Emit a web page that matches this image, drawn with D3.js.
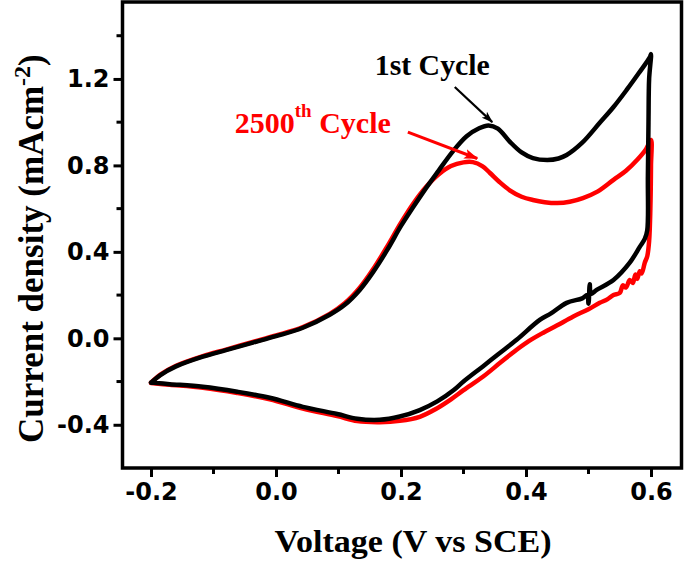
<!DOCTYPE html>
<html><head><meta charset="utf-8">
<script src="https://cdn.jsdelivr.net/npm/d3@7"></script>
<style>
html,body{margin:0;padding:0;background:#fff;}
svg{display:block;}
</style></head>
<body>
<svg id="chart" width="685" height="565"></svg>
<script>
// ---- Data ----
const cycle1V = [-0.200,-0.185,-0.160,-0.117,-0.080,-0.037,0.000,0.043,0.086,0.110,0.134,0.155,0.178,0.200,0.219,0.240,0.260,0.283,0.305,0.325,0.340,0.355,0.374,0.393,0.411,0.434,0.452,0.465,0.490,0.518,0.540,0.561,0.580,0.598,0.600,
  0.597,0.596,0.595,0.594,0.590,0.582,0.566,0.540,0.513,0.504,0.502,0.500,0.498,0.490,0.465,0.440,0.422,0.385,0.355,0.331,0.300,0.285,0.258,0.230,0.198,0.166,0.130,0.098,0.043,-0.010,-0.062,-0.117,-0.170,-0.200];
const cycle1I = [-0.205,-0.170,-0.130,-0.085,-0.055,-0.020,0.010,0.049,0.109,0.155,0.224,0.305,0.409,0.520,0.605,0.695,0.775,0.865,0.935,0.972,0.985,0.970,0.910,0.860,0.834,0.825,0.832,0.848,0.905,0.997,1.070,1.149,1.225,1.300,1.315,
  1.200,1.000,0.750,0.500,0.460,0.423,0.350,0.270,0.224,0.205,0.250,0.160,0.200,0.185,0.164,0.115,0.085,-0.007,-0.075,-0.130,-0.200,-0.238,-0.292,-0.332,-0.362,-0.377,-0.372,-0.350,-0.317,-0.275,-0.247,-0.224,-0.212,-0.205];

const cycle2500V = [-0.200,-0.185,-0.160,-0.117,-0.080,-0.037,0.000,0.043,0.086,0.110,0.134,0.155,0.178,0.200,0.220,0.240,0.260,0.280,0.300,0.315,0.330,0.342,0.358,0.374,0.393,0.411,0.430,0.450,0.470,0.491,0.515,0.540,0.560,0.578,0.592,0.600,
  0.600,0.599,0.597,0.594,0.590,0.585,0.582,0.578,0.575,0.571,0.566,0.560,0.555,0.550,0.540,0.530,0.518,0.500,0.475,0.450,0.427,0.405,0.385,0.360,0.331,0.300,0.280,0.255,0.230,0.198,0.166,0.130,0.098,0.043,-0.010,-0.062,-0.117,-0.170,-0.200];
const cycle2500I = [-0.205,-0.168,-0.127,-0.082,-0.052,-0.017,0.013,0.052,0.113,0.162,0.234,0.318,0.425,0.535,0.625,0.700,0.758,0.797,0.814,0.815,0.797,0.766,0.722,0.685,0.655,0.640,0.630,0.626,0.632,0.649,0.680,0.733,0.775,0.826,0.875,0.918,
  0.800,0.600,0.450,0.380,0.350,0.300,0.310,0.275,0.295,0.256,0.270,0.235,0.245,0.210,0.200,0.180,0.164,0.135,0.100,0.060,0.025,-0.012,-0.053,-0.110,-0.178,-0.240,-0.282,-0.328,-0.363,-0.382,-0.388,-0.383,-0.360,-0.325,-0.282,-0.253,-0.229,-0.215,-0.207];

const xTicks = [-0.2, 0.0, 0.2, 0.4, 0.6];
const xMinor = [-0.1, 0.1, 0.3, 0.5];
const yTicks = [-0.4, 0.0, 0.4, 0.8, 1.2];
const yMinor = [-0.2, 0.2, 0.6, 1.0, 1.4];
const xTitle = "Voltage (V vs SCE)";
const yTitle = "Current density (mAcm";
const label1 = "1st Cycle";
const label2 = ["2500", "th", " Cycle"];
// annotation anchors (data coordinates)
const arrow1 = [[0.286, 1.163], [0.346, 1.000]];
const arrow2 = [[0.211, 0.954], [0.322, 0.832]];
const label1Pos = [0.158, 1.218];
const label2Pos = [-0.066, 0.950];

// ---- Chart ----
const svg = d3.select("#chart");
const x = d3.scaleLinear().domain([-0.2456, 0.6488]).range([122.5, 681.5]);
const y = d3.scaleLinear().domain([-0.6, 1.556]).range([468, 2]);

const defs = svg.append("defs");
defs.append("marker").attr("id","headK").attr("viewBox","0 0 12 8").attr("refX",11).attr("refY",4)
  .attr("markerWidth",12).attr("markerHeight",8).attr("markerUnits","userSpaceOnUse").attr("orient","auto")
  .append("path").attr("d","M0,0 L12,4 L0,8 L3,4 Z").attr("fill","#000");
defs.append("marker").attr("id","headR").attr("viewBox","0 0 14 10").attr("refX",13).attr("refY",5)
  .attr("markerWidth",14).attr("markerHeight",10).attr("markerUnits","userSpaceOnUse").attr("orient","auto")
  .append("path").attr("d","M0,0 L14,5 L0,10 L3,5 Z").attr("fill","#f00");

const line = d3.line().x(d => x(d[0])).y(d => y(d[1])).curve(d3.curveCatmullRom.alpha(0.5));
const red = cycle2500V.map((v,i) => [v, cycle2500I[i]]);
const blk = cycle1V.map((v,i) => [v, cycle1I[i]]);

svg.append("path").datum(red).attr("d", line).attr("fill","none").attr("stroke","#ff0000")
  .attr("stroke-width",4.5).attr("stroke-linejoin","round").attr("stroke-linecap","round");
svg.append("path").datum(blk).attr("d", line).attr("fill","none").attr("stroke","#000")
  .attr("stroke-width",4.5).attr("stroke-linejoin","round").attr("stroke-linecap","round");

// frame
svg.append("rect").attr("x",x.range()[0]).attr("y",y.range()[1]).attr("width",x.range()[1]-x.range()[0])
  .attr("height",y.range()[0]-y.range()[1]).attr("fill","none").attr("stroke","#000").attr("stroke-width",3.5);

// axes
const tickFont = "'DejaVu Sans', sans-serif";
const xAxis = d3.axisBottom(x).tickValues(xTicks).tickFormat(d3.format(".1f")).tickSize(9).tickPadding(6);
const gx = svg.append("g").attr("transform",`translate(0,${y.range()[0]})`).call(xAxis);
const yAxis = d3.axisLeft(y).tickValues(yTicks).tickFormat(d3.format(".1f")).tickSize(9).tickPadding(4);
const gy = svg.append("g").attr("transform",`translate(${x.range()[0]},0)`).call(yAxis);
[gx, gy].forEach(g => {
  g.select(".domain").remove();
  g.selectAll("line").attr("stroke","#000").attr("stroke-width",3);
  g.selectAll("text").attr("font-family",tickFont).attr("font-weight","bold").attr("font-size",24).attr("fill","#000");
});
gx.selectAll("text").text(d => d3.format(".1f")(d).replace("−","-"));
gy.selectAll("text").text(d => d3.format(".1f")(d).replace("−","-"));
svg.append("g").selectAll("line").data(xMinor).join("line")
  .attr("x1",d=>x(d)).attr("x2",d=>x(d)).attr("y1",y.range()[0]).attr("y2",y.range()[0]+6)
  .attr("stroke","#000").attr("stroke-width",3);
svg.append("g").selectAll("line").data(yMinor).join("line")
  .attr("y1",d=>y(d)).attr("y2",d=>y(d)).attr("x1",x.range()[0]).attr("x2",x.range()[0]-6)
  .attr("stroke","#000").attr("stroke-width",3);

// titles
const serif = "'Liberation Serif', 'Times New Roman', serif";
svg.append("text").attr("x",413).attr("y",552).attr("text-anchor","middle")
  .attr("font-family",serif).attr("font-weight","bold").attr("font-size",31)
  .attr("textLength",277).attr("lengthAdjust","spacingAndGlyphs").text(xTitle);
const yt = svg.append("text").attr("transform","translate(43,443) rotate(-90)")
  .attr("font-family",serif).attr("font-weight","bold").attr("font-size",35).attr("fill","#000");
yt.append("tspan").text(yTitle);
yt.append("tspan").attr("dy",-13).attr("font-size",24).text("-2");
yt.append("tspan").attr("dy",13).text(")");

// annotations
svg.append("text").attr("x",x(label1Pos[0])).attr("y",y(label1Pos[1]))
  .attr("font-family",serif).attr("font-weight","bold").attr("font-size",29).attr("fill","#000")
  .attr("textLength",115).attr("lengthAdjust","spacingAndGlyphs").text(label1);
const t2 = svg.append("text").attr("x",x(label2Pos[0])).attr("y",y(label2Pos[1]))
  .attr("font-family",serif).attr("font-weight","bold").attr("font-size",30).attr("fill","#ff0000");
t2.append("tspan").text(label2[0]);
t2.append("tspan").attr("dy",-16).attr("font-size",19).text(label2[1]);
t2.append("tspan").attr("dy",16).text(label2[2]);

svg.append("line").attr("x1",x(arrow1[0][0])).attr("y1",y(arrow1[0][1])).attr("x2",x(arrow1[1][0])).attr("y2",y(arrow1[1][1]))
  .attr("stroke","#000").attr("stroke-width",2.2).attr("marker-end","url(#headK)");
svg.append("line").attr("x1",x(arrow2[0][0])).attr("y1",y(arrow2[0][1])).attr("x2",x(arrow2[1][0])).attr("y2",y(arrow2[1][1]))
  .attr("stroke","#ff0000").attr("stroke-width",3).attr("marker-end","url(#headR)");
</script>
</body></html>
